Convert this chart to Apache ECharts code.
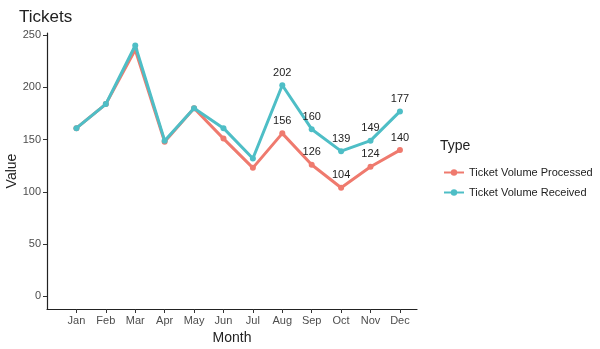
<!DOCTYPE html>
<html><head><meta charset="utf-8">
<script src="https://cdn.jsdelivr.net/npm/echarts@6/dist/echarts.min.js"></script>
<style>html,body{margin:0;padding:0;background:#fff}#c{width:600px;height:349px}</style>
</head><body><div id="c"></div>
<script>
const months = ['Jan','Feb','Mar','Apr','May','Jun','Jul','Aug','Sep','Oct','Nov','Dec'];
const processed = [161,184,236,148,180,151,123,156,126,104,124,140];
const received  = [161,184,240,149,180,161,132,202,160,139,149,177];
const labeledMonths = ['Aug','Sep','Oct','Nov','Dec'];
const yTicks = [0,50,100,150,200,250];

const chart = echarts.init(document.getElementById('c'), null, {renderer:'canvas'});
const font = 'Liberation Sans, Arial, sans-serif';
function mk(name, vals, color){
  return {
    name, type:'line', color,
    data: vals.map((v,i)=>[i+1, v]),
    symbol:'circle', symbolSize:6, showSymbol:true,
    lineStyle:{width:3, color},
    itemStyle:{color},
    label:{show:true, position:'top', distance:4, color:'#222', fontSize:11, fontFamily:font,
      formatter: p => labeledMonths.includes(months[p.data[0]-1]) ? String(p.data[1]) : ''},
    emphasis:{disabled:true}, animation:false, z: name.includes('Received')?3:2
  };
}
chart.setOption({
  animation:false,
  title:{text:'Tickets', left:14, top:4, textStyle:{fontFamily:font, fontSize:17, fontWeight:'normal', color:'#222'}},
  grid:{left:47, top:33, right:183, bottom:40, containLabel:false, outerBoundsMode:'none'},
  legend:{orient:'vertical', left:438, top:162, itemWidth:20, itemHeight:8, itemGap:9,
    data:['Ticket Volume Processed','Ticket Volume Received'],
    textStyle:{fontFamily:font, fontSize:11, color:'#222'}},
  graphic:[{type:'text', left:440, top:139, style:{text:'Type', font:'14px '+font, fill:'#222'}}],
  xAxis:{type:'value', min:0, max:12.58, name:'Month', nameLocation:'middle', nameGap:21,
    nameTextStyle:{fontFamily:font, fontSize:14, color:'#222'},
    axisLine:{show:true, onZero:false, lineStyle:{color:'#222', width:1.2}},
    axisTick:{show:true, customValues:months.map((m,i)=>i+1), length:4, lineStyle:{color:'#333'}},
    axisLabel:{customValues:months.map((m,i)=>i+1), formatter:v=>months[Math.round(v)-1]||'', color:'#4d4d4d', fontSize:11, fontFamily:font, margin:6},
    splitLine:{show:false}},
  yAxis:{type:'value', min:-12, max:252, name:'Value', nameLocation:'middle', nameGap:28, nameMoveOverlap:false,
    nameTextStyle:{fontFamily:font, fontSize:14, color:'#222'},
    axisLine:{show:true, onZero:false, lineStyle:{color:'#222', width:1.2}},
    axisTick:{show:true, customValues:yTicks, length:4, lineStyle:{color:'#333'}},
    axisLabel:{customValues:yTicks, color:'#4d4d4d', fontSize:11, fontFamily:font, margin:6},
    splitLine:{show:false}},
  series:[mk('Ticket Volume Processed', processed, '#EF7A6E'), mk('Ticket Volume Received', received, '#4EBEC6')]
});
</script></body></html>
